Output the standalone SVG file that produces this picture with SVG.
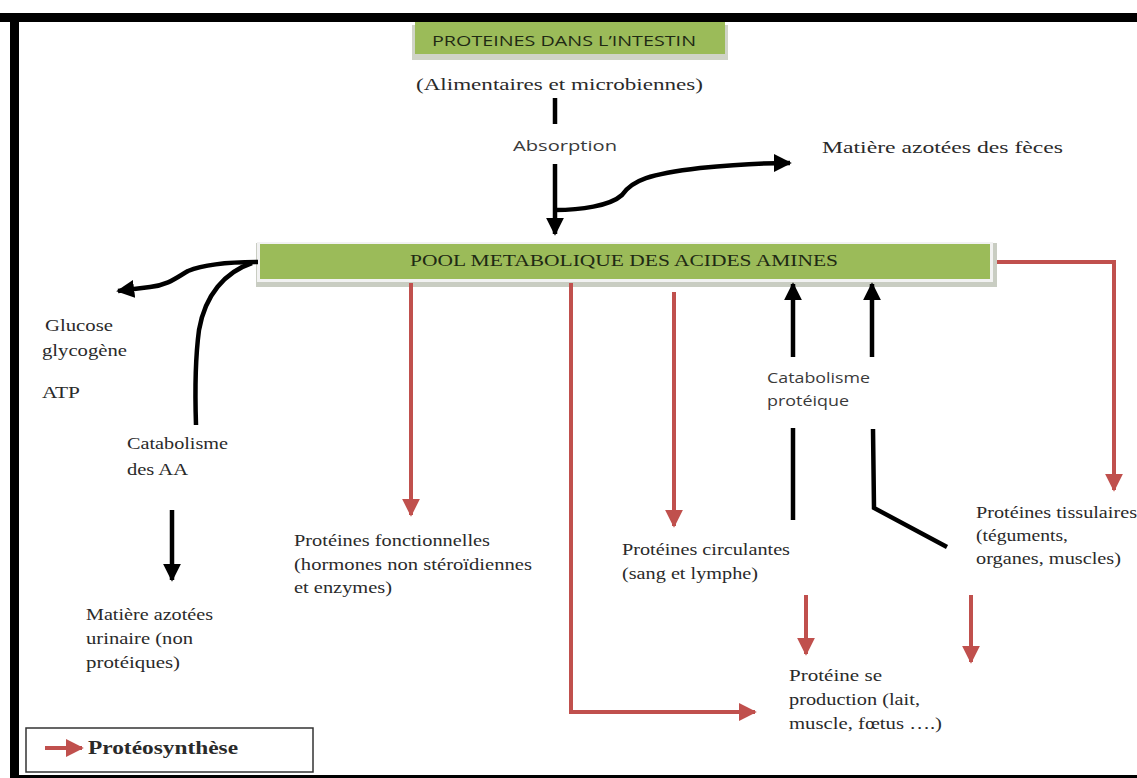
<svg xmlns="http://www.w3.org/2000/svg" width="1137" height="778" viewBox="0 0 1137 778">
<defs>
<style>
.serif{font-family:"Liberation Serif","Times New Roman",serif;font-size:17.5px;fill:#2a2a2a}
.sans{font-family:"Open Sans","Noto Sans","Liberation Sans",sans-serif;font-size:15px;fill:#3a3a3a}
.blk{stroke:#000;stroke-width:4.5;fill:none}
.red{stroke:#c0504d;stroke-width:4;fill:none}
</style>
<marker id="ab" viewBox="0 0 10 10" refX="9" refY="5" markerWidth="4" markerHeight="4" markerUnits="strokeWidth" orient="auto"><path d="M0,0 L10,5 L0,10 z" fill="#000"/></marker>
<marker id="ar" viewBox="0 0 10 10" refX="9" refY="5" markerWidth="4.5" markerHeight="4.5" markerUnits="strokeWidth" orient="auto"><path d="M0,0 L10,5 L0,10 z" fill="#c0504d"/></marker>
</defs>
<rect width="1137" height="778" fill="#fff"/>
<!-- frame -->
<rect x="0" y="13" width="1137" height="9" fill="#000"/>
<rect x="10" y="13" width="9" height="765" fill="#000"/>
<rect x="10" y="775" width="1127" height="3" fill="#000"/>

<g id="n-intestin">
<rect x="412" y="25" width="316" height="35" fill="#d0d4c8"/>
<rect x="415" y="22" width="310" height="32" fill="#9bbb59"/>
<text class="sans" x="432" y="46" textLength="264" lengthAdjust="spacingAndGlyphs" style="fill:#1f2a14">PROTEINES DANS L’INTESTIN</text>
</g>
<g id="n-alim"><text class="serif" x="416" y="90" textLength="287" lengthAdjust="spacingAndGlyphs">(Alimentaires et microbiennes)</text></g>
<g id="n-absorption"><text class="sans" x="513" y="151" textLength="104" lengthAdjust="spacingAndGlyphs">Absorption</text></g>
<g id="n-feces"><text class="serif" x="822" y="153" textLength="241" lengthAdjust="spacingAndGlyphs">Matière azotées  des fèces</text></g>

<g id="n-pool">
<rect x="256" y="243" width="741" height="44" fill="#c9cdc2"/>
<rect x="257" y="242" width="736" height="40" fill="#f2f2f2"/>
<rect x="260" y="244" width="730" height="35" fill="#9bbb59"/>
<text class="serif" x="410" y="266" textLength="428" lengthAdjust="spacingAndGlyphs" style="fill:#1f2a14">POOL METABOLIQUE DES ACIDES AMINES</text>
</g>

<g id="n-glucose">
<text class="serif" x="45" y="331" textLength="68" lengthAdjust="spacingAndGlyphs">Glucose</text>
<text class="serif" x="42" y="356" textLength="85" lengthAdjust="spacingAndGlyphs">glycogène</text>
<text class="serif" x="42" y="398" textLength="38" lengthAdjust="spacingAndGlyphs">ATP</text>
</g>
<g id="n-catab-aa">
<text class="serif" x="127" y="449" textLength="101" lengthAdjust="spacingAndGlyphs">Catabolisme</text>
<text class="serif" x="127" y="475" textLength="61" lengthAdjust="spacingAndGlyphs">des AA</text>
</g>
<g id="n-urinaire">
<text class="serif" x="86" y="620" textLength="127" lengthAdjust="spacingAndGlyphs">Matière azotées</text>
<text class="serif" x="86" y="644" textLength="107" lengthAdjust="spacingAndGlyphs">urinaire (non</text>
<text class="serif" x="86" y="668" textLength="94" lengthAdjust="spacingAndGlyphs">protéiques)</text>
</g>
<g id="n-fonct">
<text class="serif" x="294" y="546" textLength="196" lengthAdjust="spacingAndGlyphs">Protéines fonctionnelles</text>
<text class="serif" x="294" y="570" textLength="238" lengthAdjust="spacingAndGlyphs">(hormones non stéroïdiennes</text>
<text class="serif" x="294" y="593" textLength="98" lengthAdjust="spacingAndGlyphs">et enzymes)</text>
</g>
<g id="n-circ">
<text class="serif" x="622" y="555" textLength="168" lengthAdjust="spacingAndGlyphs">Protéines circulantes</text>
<text class="serif" x="622" y="579" textLength="136" lengthAdjust="spacingAndGlyphs">(sang et lymphe)</text>
</g>
<g id="n-catab-prot">
<text class="sans" x="767" y="383" textLength="103" lengthAdjust="spacingAndGlyphs">Catabolisme</text>
<text class="sans" x="767" y="406" textLength="82" lengthAdjust="spacingAndGlyphs">protéique</text>
</g>
<g id="n-tiss">
<text class="serif" x="976" y="518" textLength="161" lengthAdjust="spacingAndGlyphs">Protéines tissulaires</text>
<text class="serif" x="976" y="541" textLength="92" lengthAdjust="spacingAndGlyphs">(téguments,</text>
<text class="serif" x="976" y="564" textLength="145" lengthAdjust="spacingAndGlyphs">organes, muscles)</text>
</g>
<g id="n-prod">
<text class="serif" x="789" y="681" textLength="93" lengthAdjust="spacingAndGlyphs">Protéine se</text>
<text class="serif" x="789" y="705" textLength="131" lengthAdjust="spacingAndGlyphs">production (lait,</text>
<text class="serif" x="789" y="729" textLength="153" lengthAdjust="spacingAndGlyphs">muscle, fœtus ….)</text>
</g>
<g id="legend">
<rect x="26" y="728" width="287" height="44" fill="#fff" stroke="#333" stroke-width="1.5"/>
<line x1="45" y1="748" x2="82" y2="748" class="red" marker-end="url(#ar)"/>
<text class="serif" x="88" y="754" textLength="150" lengthAdjust="spacingAndGlyphs" style="font-weight:bold;font-size:18px">Protéosynthèse</text>
</g>

<g id="connectors">
<line x1="555" y1="98" x2="555" y2="124" class="blk"/>
<line x1="555" y1="164" x2="555" y2="234" class="blk" marker-end="url(#ab)"/>
<path d="M555,210 C580,210 610,206 622,195 C632,180 650,174 700,168 C740,164 765,163 790,163" class="blk" marker-end="url(#ab)"/>
<path d="M258,262 C235,262 205,264 188,271 C176,278 168,285 150,287 L118,291" class="blk" marker-end="url(#ab)"/>
<path d="M252,263 C225,272 205,295 199,330 C195,360 195,395 196,425" class="blk" stroke-width="3"/>
<line x1="172" y1="510" x2="172" y2="580" class="blk" marker-end="url(#ab)"/>
<line x1="793" y1="357" x2="793" y2="284" class="blk" marker-end="url(#ab)"/>
<line x1="872" y1="357" x2="872" y2="284" class="blk" marker-end="url(#ab)"/>
<line x1="793" y1="428" x2="793" y2="520" class="blk"/>
<polyline points="873,429 874,508 947,547" class="blk"/>

<line x1="411" y1="283" x2="411" y2="515" class="red" marker-end="url(#ar)"/>
<polyline points="571,283 571,712 755,712" class="red" marker-end="url(#ar)"/>
<line x1="674" y1="292" x2="674" y2="526" class="red" marker-end="url(#ar)"/>
<polyline points="997,262 1114,262 1114,490" class="red" marker-end="url(#ar)"/>
<line x1="806" y1="595" x2="806" y2="654" class="red" marker-end="url(#ar)"/>
<line x1="971" y1="595" x2="971" y2="662" class="red" marker-end="url(#ar)"/>
</g>
</svg>
